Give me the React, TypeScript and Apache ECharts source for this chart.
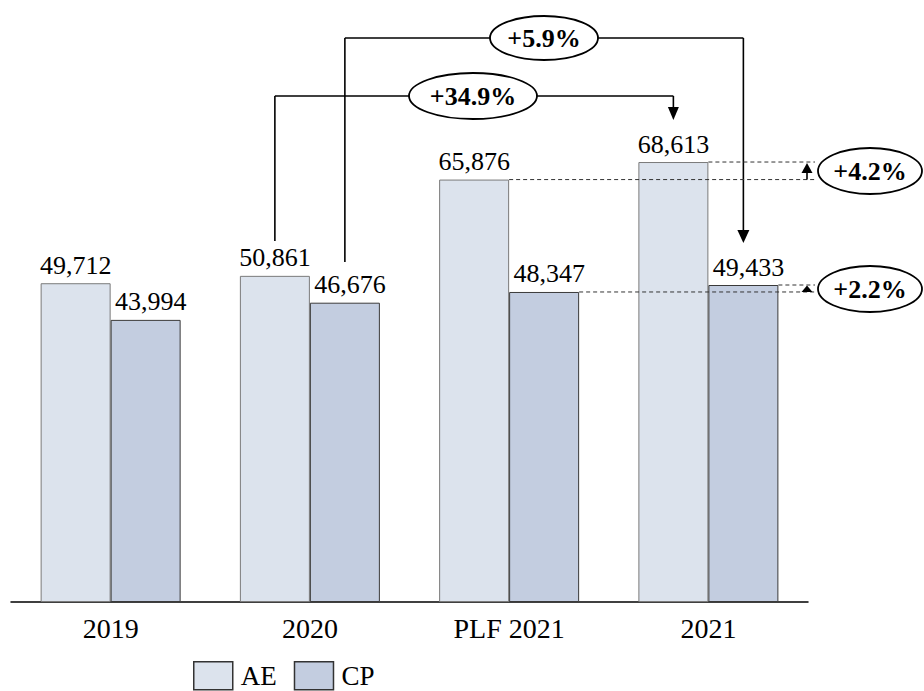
import React, { useEffect, useRef } from "react";
import * as echarts from "echarts";

const categories = ["2019", "2020", "PLF 2021", "2021"];
const seriesNames = ["AE", "CP"];
const aeValues = [49712, 50861, 65876, 68613];
const cpValues = [43994, 46676, 48347, 49433];
const changeLabels = ["+34.9%", "+5.9%", "+4.2%", "+2.2%"];

const FONT = "Liberation Serif";
const AE_COLOR = "#dce3ed";
const CP_COLOR = "#c3cde0";
const BAR_W = 70;

export default function App() {
  const ref = useRef<HTMLDivElement>(null);

  useEffect(() => {
    if (!ref.current) return;
    const chart = echarts.init(ref.current, null, { renderer: "svg" });
    const fmt = (p: any) => Number(p.value).toLocaleString("en-US");
    chart.setOption({
      animation: false,
      backgroundColor: "#ffffff",
      grid: { left: 11, right: 116, top: 89, bottom: 89, containLabel: false },
      legend: {
        left: 193,
        top: 661,
        padding: 0,
        itemWidth: 39,
        itemHeight: 28,
        itemGap: 17,
        icon: "rect",
        data: seriesNames,
        itemStyle: { borderColor: "#333333", borderWidth: 1.5 },
        textStyle: { fontFamily: FONT, fontSize: 27, color: "#000", padding: [0, 0, 0, 3], lineHeight: 22 },
      },
      xAxis: {
        type: "category",
        data: categories,
        axisLine: { lineStyle: { color: "#000", width: 1.5 } },
        axisTick: { show: false },
        axisLabel: { fontFamily: FONT, fontSize: 28, color: "#000", margin: 12 },
      },
      yAxis: { type: "value", min: 0, max: 80000, show: false, splitLine: { show: false } },
      series: [
        {
          name: seriesNames[0],
          type: "bar",
          data: aeValues,
          barWidth: BAR_W,
          barGap: "0%",
          itemStyle: { color: AE_COLOR, borderColor: "#7a7a7a", borderWidth: 1 },
          label: {
            show: true,
            position: "top",
            distance: 5,
            formatter: fmt,
            fontFamily: FONT,
            fontSize: 26,
            color: "#000",
          },
        },
        {
          name: seriesNames[1],
          type: "bar",
          data: cpValues,
          barWidth: BAR_W,
          barGap: "0%",
          itemStyle: { color: CP_COLOR, borderColor: "#3a3a3a", borderWidth: 1 },
          label: {
            show: true,
            position: "top",
            distance: 5,
            offset: [5, 0],
            formatter: fmt,
            fontFamily: FONT,
            fontSize: 26,
            color: "#000",
          },
        },
      ],
    });

    const cx = (i: number) => chart.convertToPixel({ xAxisIndex: 0 }, i) as number;
    const yv = (v: number) => chart.convertToPixel({ yAxisIndex: 0 }, v) as number;
    const aeC = (i: number) => cx(i) - BAR_W / 2;
    const cpC = (i: number) => cx(i) + BAR_W / 2;

    const solid = { stroke: "#000", lineWidth: 1.6 };
    const dashed = { stroke: "#333", lineWidth: 1, lineDash: [4, 3] };
    const line = (x1: number, y1: number, x2: number, y2: number, style: any) => ({
      type: "line",
      shape: { x1, y1, x2, y2 },
      style,
      z: 10,
    });
    const tri = (pts: number[][]) => ({
      type: "polygon",
      shape: { points: pts },
      style: { fill: "#000" },
      z: 11,
    });
    const badge = (x: number, y: number, rx: number, ry: number, text: string) => [
      {
        type: "ellipse",
        shape: { cx: x, cy: y, rx, ry },
        style: { fill: "#fff", stroke: "#000", lineWidth: 1.8 },
        z: 20,
      },
      {
        type: "text",
        x,
        y,
        style: {
          text,
          fontFamily: FONT,
          fontSize: 26,
          fontWeight: "bold",
          fill: "#000",
          align: "center",
          verticalAlign: "middle",
        },
        z: 21,
      },
    ];

    const rightX = 815;
    const arrowX = 807;
    const yA = 96;
    const yB = 38;

    const x1 = aeC(1);
    const x2 = aeC(3);
    const x3 = cpC(1);
    const x4 = cpC(3);

    const elements: any[] = [
      line(x1, yA, x1, 241, solid),
      line(x1, yA, x2, yA, solid),
      line(x2, yA, x2, 108, solid),
      tri([[x2 - 5.5, 107], [x2 + 5.5, 107], [x2, 120]]),

      line(x3, yB, x3, 262, solid),
      line(x3, yB, x4, yB, solid),
      line(x4, yB, x4, 231, solid),
      tri([[x4 - 6, 230], [x4 + 6, 230], [x4, 243]]),

      line(aeC(3) + BAR_W / 2, yv(aeValues[3]), rightX, yv(aeValues[3]), dashed),
      line(aeC(2) + BAR_W / 2, yv(aeValues[2]), rightX, yv(aeValues[2]), dashed),
      line(cpC(3) + BAR_W / 2, yv(cpValues[3]), rightX, yv(cpValues[3]), dashed),
      line(cpC(2) + BAR_W / 2, yv(cpValues[2]), rightX, yv(cpValues[2]), dashed),

      line(arrowX, yv(aeValues[2]), arrowX, yv(aeValues[3]) + 8, solid),
      tri([[arrowX - 5.5, yv(aeValues[3]) + 11], [arrowX + 5.5, yv(aeValues[3]) + 11], [arrowX, yv(aeValues[3]) + 1]]),
      tri([[arrowX - 5.5, yv(cpValues[2])], [arrowX + 5.5, yv(cpValues[2])], [arrowX, yv(cpValues[3]) + 0.5]]),

      ...badge(473, yA, 64, 23, changeLabels[0]),
      ...badge(544, yB, 54, 22, changeLabels[1]),
      ...badge(870, 171, 52, 23, changeLabels[2]),
      ...badge(870, 289, 52, 23, changeLabels[3]),
    ];

    chart.setOption({ graphic: { elements } });

    return () => chart.dispose();
  }, []);

  return (
    <div
      ref={ref}
      style={{ position: "fixed", left: 0, top: 0, width: 924, height: 691, background: "#fff" }}
    />
  );
}
